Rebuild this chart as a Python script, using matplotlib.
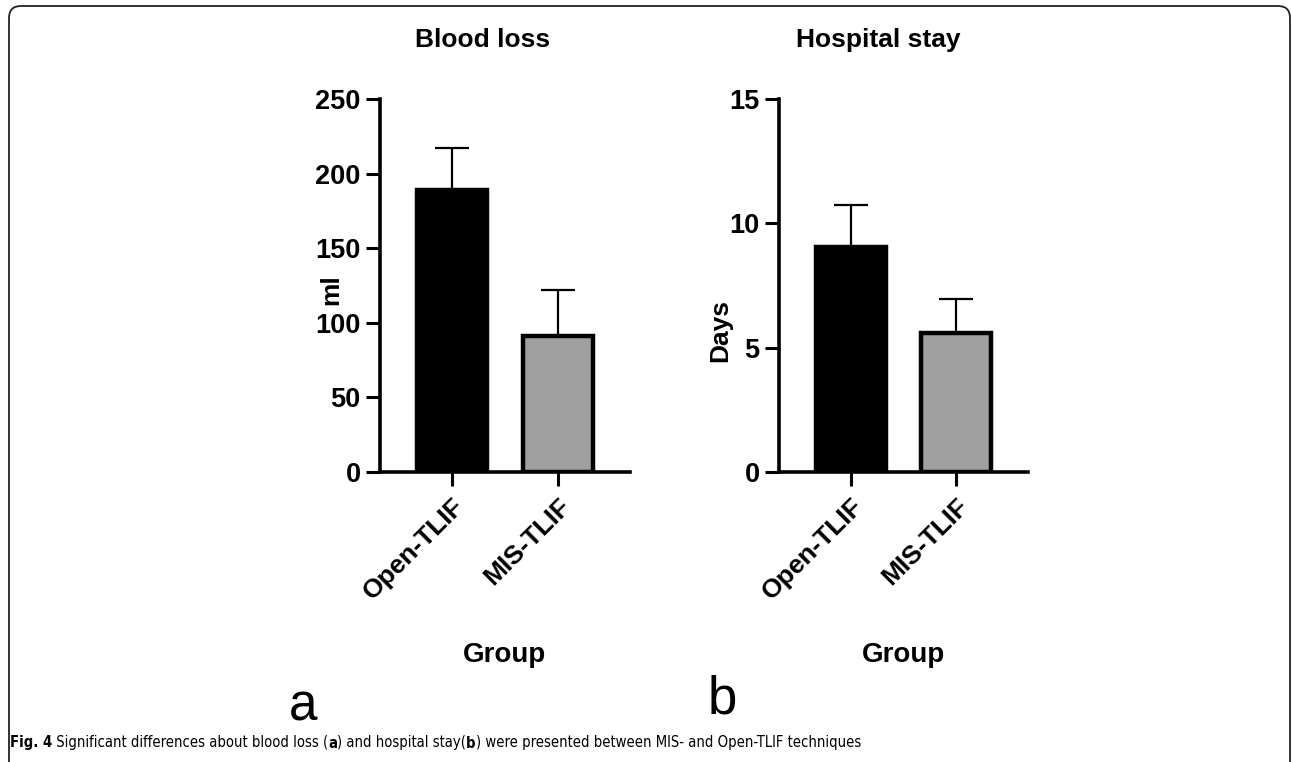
import matplotlib
matplotlib.use("Agg")
import matplotlib.pyplot as plt
from matplotlib.patches import FancyBboxPatch
from matplotlib.transforms import IdentityTransform

# data
groups = ["Open-TLIF", "MIS-TLIF"]
blood_mean = [189, 91]
blood_sd = [28, 31]
stay_mean = [9.05, 5.6]
stay_sd = [1.7, 1.37]
bar_colors = ["#000000", "#a0a0a0"]

caption_parts = [
    ("Fig. 4", "bold"), (" Significant differences about blood loss (", "normal"),
    ("a", "bold"), (") and hospital stay(", "normal"), ("b", "bold"),
    (") were presented between MIS- and Open-TLIF techniques", "normal"),
]

plt.rcParams['font.family'] = ['Liberation Sans', 'DejaVu Sans']

W, H = 1292, 762
fig = plt.figure(figsize=(W / 100, H / 100), dpi=100)


def px_axes(left, right, top, bottom):
    return fig.add_axes([left / W, 1 - bottom / H, (right - left) / W, (bottom - top) / H])


def draw_panel(ax, means, sds, ymax, yticks, ylabel, label_xy):
    x = range(len(groups))
    ax.errorbar(x, means, yerr=[[0] * len(sds), sds], fmt='none', ecolor='black',
                elinewidth=1.6, capsize=12, capthick=1.6, zorder=1)
    ax.bar(x, means, width=0.66, color=bar_colors, edgecolor='black', linewidth=3.2, zorder=2)
    ax.set_xlim(-0.68, 1.68)
    ax.set_ylim(0, ymax)
    ax.set_yticks(yticks)
    ax.set_xticks(list(x))
    ax.set_xticklabels(groups, rotation=45, ha='right', rotation_mode='anchor',
                       fontsize=19, fontweight='bold')
    for lab in ax.get_yticklabels():
        lab.set_fontsize(19.5)
        lab.set_fontweight('bold')
    for s in ['top', 'right']:
        ax.spines[s].set_visible(False)
    for s in ['left', 'bottom']:
        ax.spines[s].set_linewidth(2.6)
    ax.tick_params(width=2.2, length=10, pad=4)
    ax.tick_params(axis='x', pad=6)
    ax.set_ylabel(ylabel, fontsize=19, fontweight='bold', va='center', ha='center')
    ax.yaxis.set_label_coords(*label_xy)
    ax.set_xlabel("Group", fontsize=20, fontweight='bold', labelpad=27)


ax1 = px_axes(380, 630, 99, 472)
draw_panel(ax1, blood_mean, blood_sd, 250, [0, 50, 100, 150, 200, 250], "ml", (-0.196, 0.49))

ax2 = px_axes(779, 1028, 99, 472)
draw_panel(ax2, stay_mean, stay_sd, 15, [0, 5, 10, 15], "Days", (-0.237, 0.38))

# panel titles
fig.text(483 / W, 1 - 40 / H, "Blood loss", fontsize=19, fontweight='bold', ha='center', va='center')
fig.text(878 / W, 1 - 40 / H, "Hospital stay", fontsize=19, fontweight='bold', ha='center', va='center')

# panel letters
fig.text(303 / W, 1 - 707 / H, "a", fontsize=37, ha='center', va='center')
fig.text(722 / W, 1 - 700 / H, "b", fontsize=38, ha='center', va='center')

# caption, built piece by piece so some words can be bold
fig.canvas.draw()
x_px = 10
for txt, weight in caption_parts:
    t = fig.text(x_px / W, 1 - 743 / H, txt, fontsize=10.6, fontweight=weight,
                 fontstretch='condensed', ha='left', va='center',
                 family=['DejaVu Sans', 'Liberation Sans'])
    fig.canvas.draw()
    x_px = t.get_window_extent().x1

# rounded frame around the figure, bottom edge runs off the image
frame = FancyBboxPatch((9 + 12, -40), 1281 - 24, 744 + 40,
                       boxstyle="round,pad=12", transform=IdentityTransform(),
                       facecolor='none', edgecolor='#222222', linewidth=1.3)
fig.add_artist(frame)

fig.savefig("out.png", dpi=100)
